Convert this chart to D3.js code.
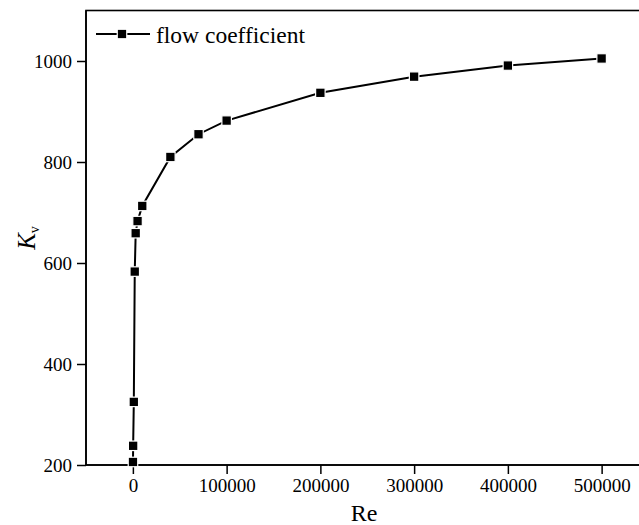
<html lang="en">
  <head>
    <meta charset="UTF-8" />
    <title>Kv vs Re</title>
    <script src="https://cdn.jsdelivr.net/npm/d3@7"></script>
    <style>
      body { margin: 0; background: #fff; }
    </style>
  </head>
  <body>
    <script>
      // data
      const reValues = [100, 300, 1000, 2000, 3000, 5000, 10000, 40000, 70000, 100000, 200000, 300000, 400000, 500000];
      const kvValues = [206, 238, 325, 583, 659, 683, 713, 810, 855, 882, 937, 969, 991, 1005];
      const xTicks = [0, 100000, 200000, 300000, 400000, 500000];
      const yTicks = [200, 400, 600, 800, 1000];
      const seriesName = "flow coefficient";

      const width = 639, height = 525;
      const plotLeft = 86, plotTop = 10.5, plotBottom = 465;
      const serif = "'Liberation Serif', 'Times New Roman', Times, 'DejaVu Serif', serif";

      const svg = d3.select("body").append("svg")
        .attr("width", width)
        .attr("height", height)
        .style("font-family", serif);

      const x = d3.scaleLinear().domain([-50000, 550000]).range([plotLeft, plotLeft + 6 * 93.75]);
      const y = d3.scaleLinear().domain([200, 1100]).range([plotBottom, plotTop]);

      // frame (top / right edges)
      svg.append("rect")
        .attr("x", plotLeft).attr("y", plotTop)
        .attr("width", x(550000) - plotLeft).attr("height", plotBottom - plotTop)
        .attr("fill", "none").attr("stroke", "#000").attr("stroke-width", 1.6);

      // x axis: major + minor ticks
      const xAxis = svg.append("g").attr("transform", `translate(0,${plotBottom})`);
      xAxis.call(d3.axisBottom(x).tickValues(d3.range(-50000, 550001, 50000))
        .tickSize(5).tickFormat(""));
      xAxis.call(d3.axisBottom(x).tickValues(xTicks).tickSize(9).tickPadding(5)
        .tickFormat(d3.format("d")));
      xAxis.selectAll("path").remove();
      xAxis.selectAll("line").attr("stroke-width", 1.5);
      xAxis.attr("font-family", null);
      xAxis.selectAll("text").attr("font-size", 19).style("font-family", serif);

      const yAxis = svg.append("g").attr("transform", `translate(${plotLeft},0)`);
      yAxis.call(d3.axisLeft(y).tickValues(d3.range(200, 1001, 100)).tickSize(4).tickFormat(""));
      yAxis.call(d3.axisLeft(y).tickValues(yTicks).tickSize(9).tickPadding(5)
        .tickFormat(d3.format("d")));
      yAxis.selectAll("path").remove();
      yAxis.selectAll("line").attr("stroke-width", 1.5);
      yAxis.attr("font-family", null);
      yAxis.selectAll("text").attr("font-size", 19).style("font-family", serif);

      // axis lines
      svg.append("line").attr("x1", plotLeft).attr("x2", width).attr("y1", plotBottom).attr("y2", plotBottom)
        .attr("stroke", "#000").attr("stroke-width", 1.6);
      svg.append("line").attr("x1", plotLeft).attr("x2", plotLeft).attr("y1", plotTop).attr("y2", plotBottom)
        .attr("stroke", "#000").attr("stroke-width", 1.6);

      // axis titles
      svg.append("text").attr("x", 364).attr("y", 521)
        .attr("text-anchor", "middle").attr("font-size", 24).text("Re");

      const kv = svg.append("text")
        .attr("transform", "translate(35,238) rotate(-90)")
        .attr("text-anchor", "middle").attr("font-size", 25);
      kv.append("tspan").attr("font-style", "italic").text("K");
      kv.append("tspan").attr("font-size", 14).attr("dy", 4).text("v");

      // series
      const pts = reValues.map((r, i) => [r, kvValues[i]]);
      svg.append("path")
        .datum(pts)
        .attr("d", d3.line().x(d => x(d[0])).y(d => y(d[1])))
        .attr("fill", "none").attr("stroke", "#000").attr("stroke-width", 2);

      const sz = 9.5;
      svg.selectAll(".pt").data(pts).enter().append("rect")
        .attr("class", "pt")
        .attr("x", d => x(d[0]) - sz / 2).attr("y", d => y(d[1]) - sz / 2)
        .attr("width", sz).attr("height", sz)
        .attr("fill", "#000").attr("stroke", "#fff").attr("stroke-width", 1.2);

      // legend
      svg.append("line").attr("x1", 96).attr("x2", 150).attr("y1", 34).attr("y2", 34)
        .attr("stroke", "#000").attr("stroke-width", 2);
      svg.append("rect").attr("x", 122 - sz / 2).attr("y", 34 - sz / 2)
        .attr("width", sz).attr("height", sz).attr("fill", "#000")
        .attr("stroke", "#fff").attr("stroke-width", 1.2);
      svg.append("text").attr("x", 156).attr("y", 43).attr("font-size", 23.5).text(seriesName);
    </script>
  </body>
</html>
